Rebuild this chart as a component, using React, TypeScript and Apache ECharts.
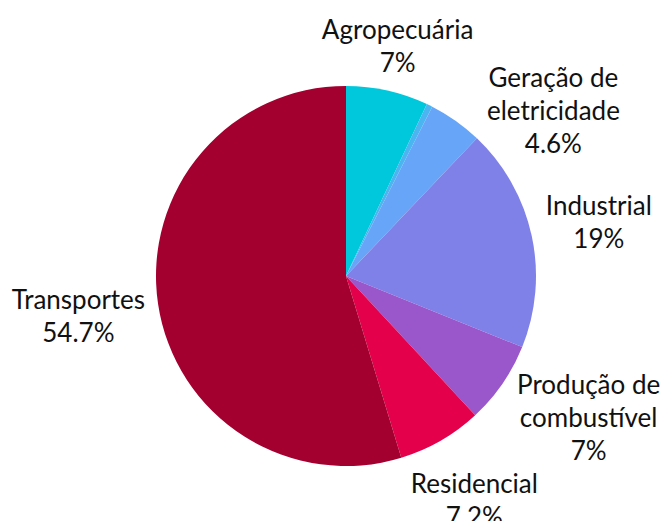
import React, { useEffect, useRef } from "react";
import * as echarts from "echarts";

const categories = [
  "Agropecuária",
  "Outros",
  "Geração de\neletricidade",
  "Industrial",
  "Produção de\ncombustível",
  "Residencial",
  "Transportes",
];
const values = [7, 0.5, 4.6, 19, 7, 7.2, 54.7];
const showLabel = [true, false, true, true, true, true, true];
const colors = ["#00C8DC", "#4AB5F0", "#67A5F8", "#7F80E8", "#9A57CC", "#E5004B", "#A30030"];
// label nudges (degrees clockwise, and gap in px between pie edge and label box)
const labelAngleShift = [0, 0, 16, 0, -4.4, 0, 0];
const labelGap = [8, 0, -7, 11, 4, 11, 11];

const W = 665;
const H = 521;
const CX = 346;
const CY = 276;
const R = 190;

export default function App() {
  const ref = useRef<HTMLDivElement>(null);
  useEffect(() => {
    if (!ref.current) return;
    const chart = echarts.init(ref.current, undefined, { renderer: "svg" });
    const total = values.reduce((a, b) => a + b, 0);
    const mid: number[] = [];
    let acc = 0;
    values.forEach((v) => {
      mid.push(((acc + v / 2) / total) * 360);
      acc += v;
    });
    const boxDist = (cx: number, cy: number, w: number, h: number) => {
      const dx = Math.max(Math.abs(cx) - w / 2, 0);
      const dy = Math.max(Math.abs(cy) - h / 2, 0);
      return Math.hypot(dx, dy);
    };

    const data = categories.map((name, i) => ({
      name,
      value: values[i],
      itemStyle: { color: colors[i] },
      label: { show: showLabel[i] },
    }));

    chart.setOption({
      animation: false,
      series: [
        {
          type: "pie",
          center: [CX, CY],
          radius: [0, R],
          startAngle: 90,
          clockwise: true,
          avoidLabelOverlap: false,
          silent: true,
          data,
          labelLine: { show: false },
          label: {
            position: "outside",
            formatter: (p: any) => `${p.name}\n${p.value}%`,
            fontFamily: "Lato",
            fontSize: 26,
            lineHeight: 33,
            color: "#111111",
            align: "center",
          },
          labelLayout: (params: any) => {
            const i = params.dataIndex;
            const w = params.labelRect.width;
            const h = params.labelRect.height;
            const D = R + labelGap[i];
            const a = ((mid[i] + labelAngleShift[i]) * Math.PI) / 180;
            const ux = Math.sin(a);
            const uy = -Math.cos(a);
            let lo = 0;
            let hi = 800;
            for (let s = 0; s < 40; s++) {
              const m = (lo + hi) / 2;
              if (boxDist(ux * m, uy * m, w, h) < D) lo = m;
              else hi = m;
            }
            return {
              x: CX + ux * hi,
              y: CY + uy * hi,
              align: "center",
              verticalAlign: "middle",
            };
          },
        },
      ],
    });
    return () => chart.dispose();
  }, []);
  return (
    <div
      ref={ref}
      style={{ position: "fixed", left: 0, top: 0, width: W, height: H, background: "#ffffff" }}
    />
  );
}
